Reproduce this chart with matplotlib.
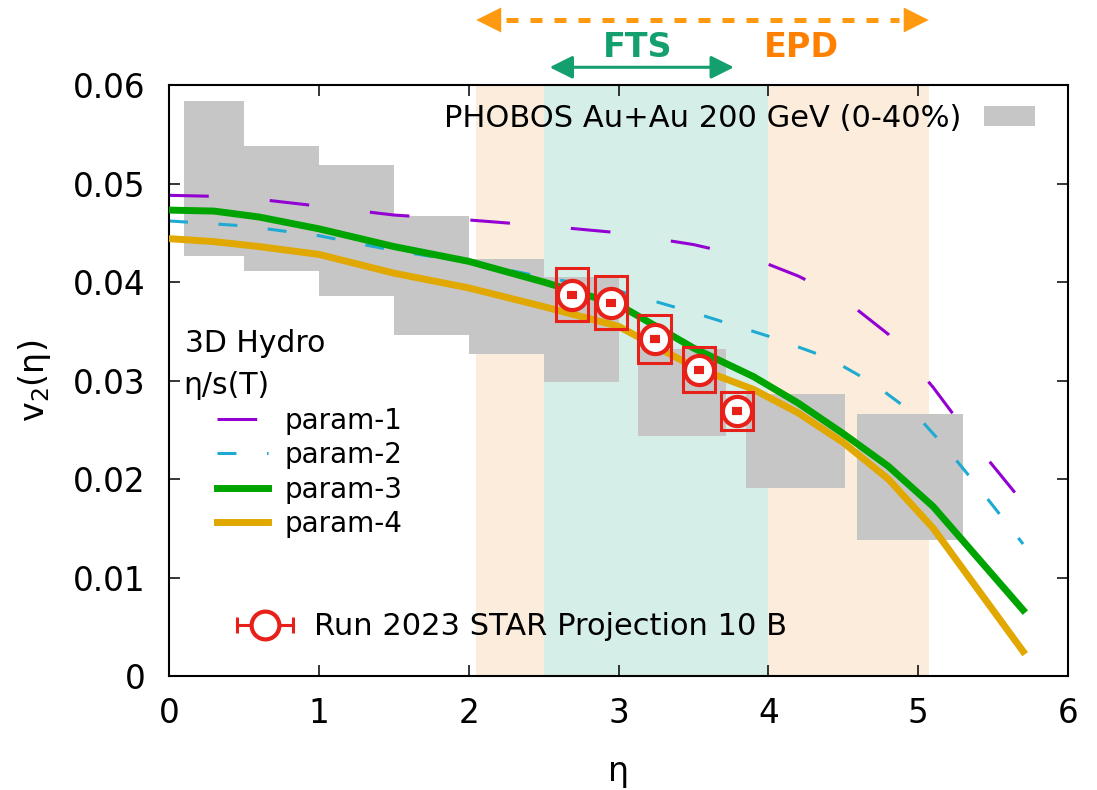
import numpy as np
import matplotlib
matplotlib.use('Agg')
import matplotlib.pyplot as plt
from matplotlib.patches import Rectangle
from matplotlib.lines import Line2D
from matplotlib.legend_handler import HandlerLine2D, HandlerTuple

plt.rcParams['font.family'] = ['DejaVu Sans']
plt.rcParams['mathtext.fontset'] = 'dejavusans'

# --- 3D hydro curves, v2(eta) for four eta/s(T) parametrisations
eta1 = [0, 0.3, 0.6, 1.0, 1.5, 2.0, 2.5, 3.0, 3.5, 3.9, 4.2, 4.5, 4.8, 5.1, 5.4, 5.7]
p1 = [0.0488, 0.0487, 0.0484, 0.0477, 0.0468, 0.0463, 0.0457, 0.0450, 0.0438, 0.0424,
      0.0406, 0.0383, 0.0347, 0.0293, 0.0232, 0.0176]

eta2 = [0, 0.5, 1.0, 1.5, 2.0, 2.5, 3.0, 3.5, 4.0, 4.4, 4.7, 5.0, 5.2, 5.4, 5.7]
p2 = [0.0462, 0.0457, 0.0447, 0.0432, 0.0420, 0.0405, 0.0391, 0.0369, 0.0345, 0.0323,
      0.0297, 0.0263, 0.0229, 0.0192, 0.0134]

eta34 = [0, 0.3, 0.6, 1.0, 1.5, 2.0, 2.5, 3.0, 3.5, 3.9, 4.2, 4.5, 4.8, 5.1, 5.7]
p3 = [0.0473, 0.0472, 0.0466, 0.0454, 0.0436, 0.0421, 0.0400, 0.0377, 0.0333, 0.0304,
      0.0277, 0.0246, 0.0213, 0.0172, 0.0067]
p4 = [0.0444, 0.0441, 0.0436, 0.0428, 0.0409, 0.0394, 0.0375, 0.0355, 0.0314, 0.0291,
      0.0267, 0.0237, 0.0200, 0.0150, 0.0025]

# --- PHOBOS Au+Au 200 GeV (0-40%) boxes
ph_lo = [0.10, 0.50, 1.00, 1.50, 2.00, 2.50, 3.13, 3.85, 4.59]
ph_hi = [0.50, 1.00, 1.50, 2.00, 2.50, 3.00, 3.72, 4.51, 5.30]
ph_bot = [0.0426, 0.0411, 0.0386, 0.0346, 0.0327, 0.0298, 0.0244, 0.0191, 0.0138]
ph_top = [0.0584, 0.0538, 0.0519, 0.0467, 0.0423, 0.0405, 0.0332, 0.0286, 0.0266]

# --- STAR Run 2023 projection
st_eta = [2.69, 2.95, 3.24, 3.54, 3.79]
st_v2 = [0.0387, 0.0379, 0.0342, 0.0311, 0.0269]
st_sys = [0.0027, 0.0027, 0.0024, 0.0023, 0.0019]
st_stat = [0.0002, 0.0002, 0.0002, 0.0002, 0.0002]
st_xw = 0.107

# detector acceptances
epd_rng = (2.05, 5.07)
fts_rng = (2.5, 4.0)
fts_arrow = (2.54, 3.77)

c_purple = '#9400d3'
c_cyan = '#1eaad2'
c_green = '#00a400'
c_yellow = '#e0a800'
c_red = '#e8201a'
c_gray = '#c6c6c6'
c_orange = '#ff9a10'

fig = plt.figure(figsize=(10.97, 7.9), dpi=100)
ax = fig.add_axes([0.1541, 0.1443, 0.8195, 0.7481])

ax.axvspan(*epd_rng, color='#fbecdc', lw=0, zorder=0)
ax.axvspan(*fts_rng, color='#d6eee8', lw=0, zorder=0.5)

lo = np.array(ph_lo); hi = np.array(ph_hi)
bot = np.array(ph_bot); top = np.array(ph_top)
ax.bar(lo, top - bot, width=hi - lo, bottom=bot, align='edge', color=c_gray, lw=0, zorder=1)

l1, = ax.plot(eta1, p1, color=c_purple, lw=2.2, ls=(0, (13, 20)), zorder=2)
l2, = ax.plot(eta2, p2, color=c_cyan, lw=2.2, ls=(0, (6.2, 10)), zorder=2)
l3, = ax.plot(eta34, p3, color=c_green, lw=5, zorder=3, solid_joinstyle='miter')
l4, = ax.plot(eta34, p4, color=c_yellow, lw=5, zorder=3, solid_joinstyle='miter')

for x, y, s in zip(st_eta, st_v2, st_sys):
    ax.add_patch(Rectangle((x - st_xw, y - s), 2 * st_xw, 2 * s, fill=False,
                           ec=c_red, lw=2.2, zorder=4))
ax.plot(st_eta, st_v2, ls='none', marker='o', ms=21, mfc='white', mec=c_red, mew=3, zorder=5)
ax.errorbar(st_eta, st_v2, yerr=st_stat, fmt='none', ecolor=c_red, elinewidth=3,
            capsize=3.5, capthick=3, zorder=6)

ax.set_xlim(0, 6)
ax.set_ylim(0, 0.06)
ax.set_xticks(range(0, 7))
ax.set_yticks([0, 0.01, 0.02, 0.03, 0.04, 0.05, 0.06])
ax.set_yticklabels(['0', '0.01', '0.02', '0.03', '0.04', '0.05', '0.06'])
ax.tick_params(direction='in', length=8, width=1.1, top=True, right=True, labelsize=23.5)
ax.tick_params(axis='y', pad=17)
ax.tick_params(axis='x', pad=15)
for sp in ax.spines.values():
    sp.set_linewidth(1.5)
ax.set_xlabel('η', fontsize=24, labelpad=18)
ax.set_ylabel(r'v$_2$(η)', fontsize=24, labelpad=14)

# legends
fs = 20
ax.text(0.018, 0.563, '3D Hydro', transform=ax.transAxes, fontsize=21.5, va='center')
ax.text(0.016, 0.492, 'η/s(T)', transform=ax.transAxes, fontsize=21.5, va='center')
leg1 = ax.legend([l1, l2, l3, l4], ['param-1', 'param-2', 'param-3', 'param-4'],
                 loc='upper left', bbox_to_anchor=(0.053, 0.456), frameon=False,
                 fontsize=fs, handlelength=1.85, handletextpad=0.6, labelspacing=0.235,
                 borderpad=0, borderaxespad=0)
ax.add_artist(leg1)

ph_patch = Rectangle((0, 0), 1, 1, color=c_gray, lw=0)
leg2 = ax.legend([ph_patch], ['PHOBOS Au+Au 200 GeV (0-40%)'], loc='center right',
                 bbox_to_anchor=(0.963, 0.944), frameon=False, fontsize=22,
                 markerfirst=False, handlelength=1.65, handleheight=0.66,
                 handletextpad=0.75, borderpad=0, borderaxespad=0)
ax.add_artist(leg2)

h_bar = Line2D([], [], color=c_red, lw=2.2, marker='|', ms=11, mew=2.2)
h_circ = Line2D([], [], ls='none', marker='o', ms=20, mfc='white', mec=c_red, mew=3)
ax.legend([(h_bar, h_circ)], ['Run 2023 STAR Projection 10 B'], loc='center left',
          bbox_to_anchor=(0.0756, 0.083), frameon=False, fontsize=22,
          handlelength=1.83, handletextpad=0.69, borderpad=0, borderaxespad=0,
          handler_map={h_bar: HandlerLine2D(numpoints=2, marker_pad=0),
                       tuple: HandlerTuple(ndivide=1)})

# acceptance arrows above the frame
xt = ax.get_xaxis_transform()
ya = 1.11
ax.plot([epd_rng[0] + 0.2, epd_rng[1] - 0.2], [ya, ya], transform=xt, color=c_orange,
        lw=3.6, ls=(0, (2.4, 2.4)), clip_on=False)
for tip, tail in [(epd_rng[0], epd_rng[0] + 0.3), (epd_rng[1], epd_rng[1] - 0.3)]:
    ax.annotate('', xy=(tip, ya), xycoords=xt, xytext=(tail, ya), textcoords=xt,
                arrowprops=dict(arrowstyle='-|>,head_length=0.6,head_width=0.3',
                                mutation_scale=30, color=c_orange, lw=0,
                                shrinkA=0, shrinkB=0))
yf = 1.03
ax.annotate('', xy=(fts_arrow[0], yf), xycoords=xt, xytext=(fts_arrow[1], yf), textcoords=xt,
            arrowprops=dict(arrowstyle='<|-|>,head_length=0.5,head_width=0.25',
                            mutation_scale=28, color='#14a06e', lw=2.2,
                            shrinkA=0, shrinkB=0))
ax.text(3.13, 1.063, 'FTS', transform=xt, ha='center', va='center', fontsize=24,
        fontweight='bold', color='#14a06e')
ax.text(4.22, 1.063, 'EPD', transform=xt, ha='center', va='center', fontsize=24,
        fontweight='bold', color='#ff8000')

fig.savefig('out.png', dpi=100)
